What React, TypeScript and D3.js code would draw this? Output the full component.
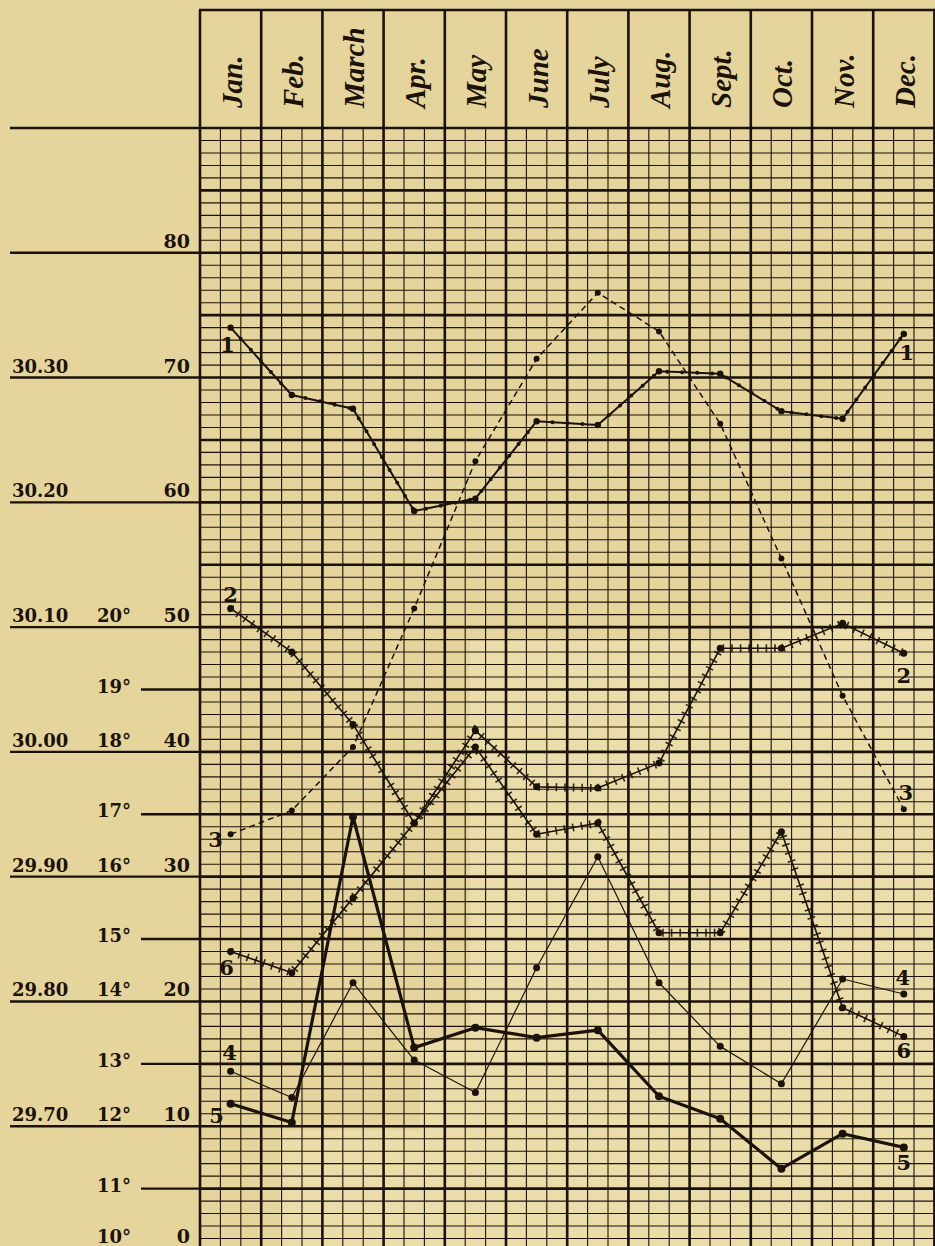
import React from "react";
import * as d3 from "d3";

const MONTHS = ["Jan.", "Feb.", "March", "Apr.", "May", "June", "July", "Aug.", "Sept.", "Oct.", "Nov.", "Dec."];

const SERIES_1 = [74.0, 68.6, 67.5, 59.3, 60.3, 66.5, 66.2, 70.5, 70.3, 67.3, 66.7, 73.5];
const SERIES_2 = [51.5, 48.0, 42.2, 34.3, 41.7, 37.2, 37.1, 39.1, 48.3, 48.3, 50.3, 47.9];
const SERIES_3 = [33.4, 35.3, 40.4, 51.5, 63.3, 71.5, 76.8, 73.7, 66.3, 55.5, 44.5, 35.4];
const SERIES_4 = [14.4, 12.3, 21.5, 15.3, 12.7, 22.7, 31.6, 21.5, 16.4, 13.4, 21.8, 20.6];
const SERIES_5 = [11.8, 10.3, 34.8, 16.3, 17.9, 17.1, 17.7, 12.4, 10.6, 6.6, 9.4, 8.3];
const SERIES_6 = [24.0, 22.3, 28.3, 34.3, 40.4, 33.4, 34.3, 25.5, 25.5, 33.6, 19.5, 17.2];

const VALUE_TICKS = [80, 70, 60, 50, 40, 30, 20, 10, 0];
const PRESSURE_VALUES = [70, 60, 50, 40, 30, 20, 10];
const PRESSURE_LABELS = ["30.30", "30.20", "30.10", "30.00", "29.90", "29.80", "29.70"];
const TEMP_VALUES = [50, 45, 40, 35, 30, 25, 20, 15, 10, 5, 0];
const TEMP_LABELS = ["20°", "19°", "18°", "17°", "16°", "15°", "14°", "13°", "12°", "11°", "10°"];
const FULL_LINES = [90, 80, 70, 60, 50, 40, 30, 20, 10];
const HALF_LINES = [45, 35, 25, 15, 5];

const W = 935;
const H = 1246;
const INK = "#1b130a";
const BG = "#e5d59c";

const SERIES = [
  { name: "1", data: SERIES_1, width: 2, dash: "", dots: 3.2, beads: true, cross: false, l: [-3, 24], r: [3, 26] },
  { name: "2", data: SERIES_2, width: 1.6, dash: "", dots: 3.5, beads: false, cross: true, l: [0, -6], r: [0, 30] },
  { name: "3", data: SERIES_3, width: 1.5, dash: "6 4", dots: 3, beads: false, cross: false, l: [-15, 13], r: [2, -9] },
  { name: "4", data: SERIES_4, width: 1.2, dash: "", dots: 3.5, beads: false, cross: false, l: [-1, -11], r: [-1, -9] },
  { name: "5", data: SERIES_5, width: 3.2, dash: "", dots: 4, beads: false, cross: false, l: [-14, 19], r: [0, 23] },
  { name: "6", data: SERIES_6, width: 1.6, dash: "", dots: 3.5, beads: false, cross: true, l: [-4, 23], r: [0, 22] },
];

export default function App() {
  const left = 200;
  const right = 934.4;
  const x = d3.scaleBand<string>().domain(MONTHS).range([left, right]);
  const bw = x.bandwidth();
  const y = d3.scaleLinear().domain([0, 90]).range([1251, 128]);
  const cx = (i: number) => (x(MONTHS[i]) as number) + bw / 2;
  const line = d3
    .line<number>()
    .x((_, i) => cx(i))
    .y((d) => y(d));

  const fineH = d3.range(0, 91);
  const fineV: number[] = [];
  MONTHS.forEach((m) => {
    const x0 = x(m) as number;
    fineV.push(x0 + bw / 3, x0 + (2 * bw) / 3);
  });
  const bounds = MONTHS.map((m) => x(m) as number).concat([right]);

  const serif = "'DejaVu Serif', serif";
  const times = "'Liberation Serif', serif";

  return (
    <svg
      width={W}
      height={H}
      style={{ position: "absolute", left: 0, top: 0, display: "block" }}
      xmlns="http://www.w3.org/2000/svg"
    >
      <rect x={0} y={0} width={W} height={H} fill={BG} />
      {/* paper wear patch */}
      <path
        d="M470,640 L760,640 L760,600 L935,600 L935,1246 L280,1246 L280,1130 L420,1130 L420,1040 L470,1040 Z"
        fill="#efe6bd"
        opacity={0.45}
      />
      {/* fine horizontal grid */}
      {fineH.map((v) => (
        <line
          key={"h" + v}
          x1={left}
          x2={right}
          y1={y(v)}
          y2={y(v)}
          stroke={INK}
          strokeWidth={v % 5 === 0 ? 2.6 : 1.1}
        />
      ))}
      {/* fine vertical grid */}
      {fineV.map((xv, i) => (
        <line key={"v" + i} x1={xv} x2={xv} y1={y(90)} y2={H} stroke={INK} strokeWidth={1.1} />
      ))}
      {/* month boundaries through header */}
      {bounds.map((xv, i) => (
        <line key={"b" + i} x1={xv} x2={xv} y1={10} y2={H} stroke={INK} strokeWidth={2.6} />
      ))}
      <line x1={left - 1} x2={W} y1={10} y2={10} stroke={INK} strokeWidth={2.4} />
      {/* left extensions */}
      {FULL_LINES.map((v) => (
        <line key={"fl" + v} x1={10} x2={left} y1={y(v)} y2={y(v)} stroke={INK} strokeWidth={2.4} />
      ))}
      {HALF_LINES.map((v) => (
        <line key={"hl" + v} x1={141} x2={left} y1={y(v)} y2={y(v)} stroke={INK} strokeWidth={2.4} />
      ))}
      {/* month labels */}
      {MONTHS.map((m, i) => (
        <text
          key={m}
          transform={`translate(${cx(i) + 11},108) rotate(-90)`}
          fontFamily={times}
          fontStyle="italic"
          fontWeight="bold"
          fontSize={29}
          fill={INK}
        >
          {m}
        </text>
      ))}
      {/* value labels */}
      {VALUE_TICKS.map((v) => (
        <text
          key={"vt" + v}
          x={190}
          y={y(v) - (v === 0 ? 8 : 5)}
          textAnchor="end"
          fontFamily={serif}
          fontWeight="bold"
          fontSize={19}
          fill={INK}
        >
          {v}
        </text>
      ))}
      {PRESSURE_LABELS.map((t, i) => (
        <text
          key={"p" + t}
          x={12}
          y={y(PRESSURE_VALUES[i]) - 5}
          fontFamily={serif}
          fontWeight="bold"
          fontSize={18}
          fill={INK}
        >
          {t}
        </text>
      ))}
      {TEMP_LABELS.map((t, i) => {
        const v = TEMP_VALUES[i];
        const half = v % 10 !== 0;
        return (
          <text
            key={"t" + t}
            x={131}
            y={y(v) + (half ? 3 : v === 0 ? -8 : -5)}
            textAnchor="end"
            fontFamily={serif}
            fontWeight="bold"
            fontSize={18}
            fill={INK}
          >
            {t}
          </text>
        );
      })}
      {/* series */}
      {SERIES.map((s) => {
        const d = line(s.data) as string;
        return (
          <g key={"s" + s.name}>
            <path d={d} fill="none" stroke={INK} strokeWidth={s.width} strokeDasharray={s.dash || undefined} strokeLinejoin="round" />
            {s.cross && (
              <path d={d} fill="none" stroke={INK} strokeWidth={8} strokeDasharray="1.6 7" opacity={0.9} />
            )}
            {s.beads && (
              <path d={d} fill="none" stroke={INK} strokeWidth={4} strokeDasharray="0 15" strokeLinecap="round" />
            )}
            {s.data.map((v, i) => (
              <circle key={i} cx={cx(i)} cy={y(v)} r={s.dots} fill={INK} />
            ))}
            <text
              x={cx(0) + s.l[0]}
              y={y(s.data[0]) + s.l[1]}
              textAnchor="middle"
              fontFamily={serif}
              fontWeight="bold"
              fontSize={21}
              fill={INK}
            >
              {s.name}
            </text>
            <text
              x={cx(11) + s.r[0]}
              y={y(s.data[11]) + s.r[1]}
              textAnchor="middle"
              fontFamily={serif}
              fontWeight="bold"
              fontSize={21}
              fill={INK}
            >
              {s.name}
            </text>
          </g>
        );
      })}
    </svg>
  );
}
